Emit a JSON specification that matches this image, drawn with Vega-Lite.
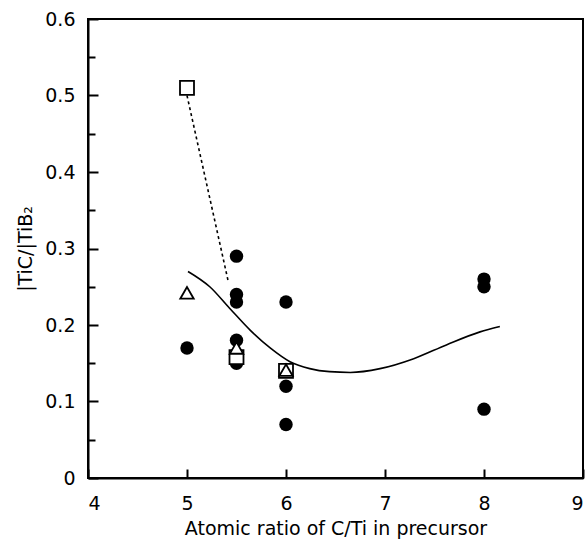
{
  "$schema": "https://vega.github.io/schema/vega-lite/v6.json",
  "width": 495,
  "height": 459,
  "autosize": "none",
  "padding": {"left": 88, "top": 19, "right": 2, "bottom": 61},
  "background": "white",
  "config": {
    "font": "DejaVu Sans",
    "view": {"stroke": "black", "strokeWidth": 2},
    "axis": {
      "domainColor": "black", "domainWidth": 2, "tickColor": "black", "tickWidth": 2,
      "labelColor": "black", "titleColor": "black", "grid": false
    }
  },
  "datasets": {
    "pts": [
      {"x": 5, "y": 0.17, "s": "circle"},
      {"x": 5.5, "y": 0.29, "s": "circle"},
      {"x": 5.5, "y": 0.24, "s": "circle"},
      {"x": 5.5, "y": 0.23, "s": "circle"},
      {"x": 5.5, "y": 0.18, "s": "circle"},
      {"x": 5.5, "y": 0.15, "s": "circle"},
      {"x": 6, "y": 0.23, "s": "circle"},
      {"x": 6, "y": 0.12, "s": "circle"},
      {"x": 6, "y": 0.07, "s": "circle"},
      {"x": 8, "y": 0.26, "s": "circle"},
      {"x": 8, "y": 0.25, "s": "circle"},
      {"x": 8, "y": 0.09, "s": "circle"},
      {"x": 5, "y": 0.51, "s": "square"},
      {"x": 5.5, "y": 0.158, "s": "square"},
      {"x": 6, "y": 0.14, "s": "square"},
      {"x": 5, "y": 0.242, "s": "triangle"},
      {"x": 5.5, "y": 0.17, "s": "triangle"},
      {"x": 6, "y": 0.141, "s": "triangle"}
    ],
    "fit": [
      {"x": 5.01, "y": 0.27},
      {"x": 5.23, "y": 0.25},
      {"x": 5.43, "y": 0.222},
      {"x": 5.64, "y": 0.193},
      {"x": 5.84, "y": 0.17},
      {"x": 6.04, "y": 0.152},
      {"x": 6.24, "y": 0.143},
      {"x": 6.44, "y": 0.139},
      {"x": 6.65, "y": 0.138},
      {"x": 6.95, "y": 0.143},
      {"x": 7.29, "y": 0.156},
      {"x": 7.62, "y": 0.174},
      {"x": 7.96, "y": 0.191},
      {"x": 8.16, "y": 0.198}
    ],
    "dash": [
      {"x": 5.0, "y": 0.5},
      {"x": 5.42, "y": 0.255}
    ]
  },
  "encoding": {
    "x": {
      "field": "x", "type": "quantitative",
      "scale": {"domain": [4, 9], "nice": false, "zero": false},
      "axis": {"values": [4, 5, 6, 7, 8, 9], "tickSize": -9, "labelPadding": 25, "format": "d",
               "labelFont": "DejaVu Sans", "labelFontSize": 19,
               "titleFont": "DejaVu Sans", "titleFontSize": 19, "titleFontWeight": "normal",
               "title": "Atomic ratio of C/Ti in precursor", "titlePadding": 6}
    },
    "y": {
      "field": "y", "type": "quantitative",
      "scale": {"domain": [0, 0.6], "nice": false},
      "axis": {
        "values": [0, 0.05, 0.1, 0.15, 0.2, 0.25, 0.3, 0.35, 0.4, 0.45, 0.5, 0.55, 0.6],
        "labelExpr": "round(datum.value*20)%2==0 ? format(datum.value,'.1~f') : ''",
        "tickSize": {"condition": {"test": "round(datum.value*20)%2==1", "value": -7}, "value": -10},
        "labelPadding": 23,
        "labelFont": "DejaVu Sans", "labelFontSize": 19,
        "titleFont": "DejaVu Sans", "titleFontSize": 19, "titleFontWeight": "normal",
        "title": "|TiC/|TiB₂", "titlePadding": 9
      }
    }
  },
  "layer": [
    {
      "data": {"name": "dash"},
      "mark": {"type": "line", "color": "black", "strokeWidth": 1.6, "strokeDash": [3, 3]}
    },
    {
      "data": {"name": "fit"},
      "mark": {"type": "line", "color": "black", "strokeWidth": 1.6, "interpolate": "monotone"}
    },
    {
      "data": {"name": "pts"},
      "transform": [{"filter": "datum.s == 'circle'"}],
      "mark": {"type": "point", "shape": "circle", "filled": true, "color": "black", "size": 180, "opacity": 1}
    },
    {
      "data": {"name": "pts"},
      "transform": [{"filter": "datum.s == 'square'"}],
      "mark": {"type": "point", "shape": "square", "fill": "white", "stroke": "black", "strokeWidth": 1.8, "size": 196, "opacity": 1}
    },
    {
      "data": {"name": "pts"},
      "transform": [{"filter": "datum.s == 'triangle'"}],
      "mark": {"type": "point", "shape": "triangle-up", "fill": "white", "stroke": "black", "strokeWidth": 1.8, "size": 180, "opacity": 1}
    }
  ]
}
